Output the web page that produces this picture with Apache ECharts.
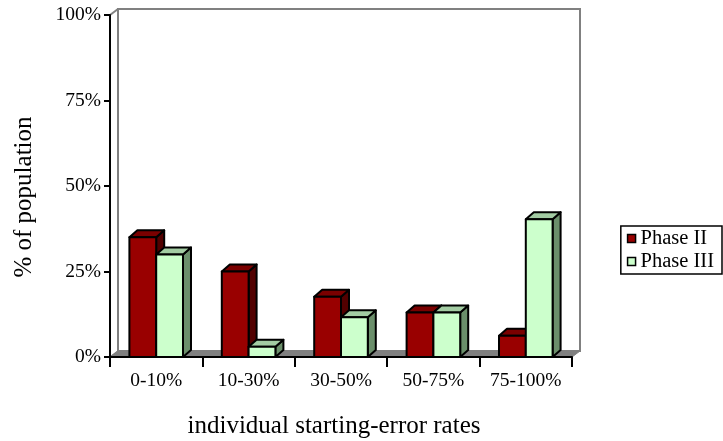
<!DOCTYPE html>
<html>
<head>
<meta charset="utf-8">
<script src="https://cdn.jsdelivr.net/npm/echarts@6/dist/echarts.min.js"></script>
<style>
html,body{margin:0;padding:0;background:#fff;}
#chart{width:723px;height:441px;}
</style>
</head>
<body>
<div id="chart"></div>
<script>
var categories = ['0-10%', '10-30%', '30-50%', '50-75%', '75-100%'];
var phase2 = [35, 25, 17.6, 13, 6.2];
var phase3 = [30, 3, 11.6, 13, 40.3];
var yTicks = [0, 25, 50, 75, 100];

var DX = 8, DY = 7;
var FONT = '"Liberation Serif", "Times New Roman", serif';

var seriesStyles = [
  {name: 'Phase II', front: '#990000', top: '#7a0000', side: '#520000'},
  {name: 'Phase III', front: '#ccffcc', top: '#a3cca3', side: '#6b8f6b'}
];

var chart = echarts.init(document.getElementById('chart'), null, {renderer: 'canvas'});

function wallRender(params, api) {
  var cs = params.coordSys;
  var x0 = cs.x, y0 = cs.y, w = cs.width, h = cs.height;
  var dx = 8, dy = 6;
  return {
    type: 'group',
    children: [
      {type: 'polygon', shape: {points: [[x0, y0 + h], [x0 + w, y0 + h], [x0 + w + dx, y0 + h - dy], [x0 + dx, y0 + h - dy]]},
        style: {fill: '#808080', stroke: '#808080', lineWidth: 1}},
      {type: 'rect', shape: {x: x0 + dx, y: y0 - dy, width: w, height: h},
        style: {fill: 'none', stroke: '#808080', lineWidth: 2}},
      {type: 'line', shape: {x1: x0, y1: y0, x2: x0 + dx, y2: y0 - dy}, style: {stroke: '#808080', lineWidth: 2}},
      {type: 'line', shape: {x1: x0, y1: y0 + h, x2: x0 + dx, y2: y0 + h - dy}, style: {stroke: '#808080', lineWidth: 1.5}}
    ]
  };
}

function makeBarRender(idx) {
  var st = seriesStyles[idx];
  return function (params, api) {
    var ci = api.value(0);
    var val = api.value(1);
    var base = api.coord([ci, 0]);
    var topPt = api.coord([ci, val]);
    var bandW = api.size([1, 0])[0];
    var barW = bandW * 0.29;
    var groupLeft = base[0] - barW;
    var x = groupLeft + idx * barW;
    var yb = base[1], yt = topPt[1];
    var line = {stroke: '#000', lineWidth: 2, lineJoin: 'round'};
    return {
      type: 'group',
      children: [
        {type: 'polygon', shape: {points: [[x + barW, yt], [x + barW + DX, yt - DY], [x + barW + DX, yb - DY], [x + barW, yb]]},
          style: Object.assign({fill: st.side}, line)},
        {type: 'polygon', shape: {points: [[x, yt], [x + DX, yt - DY], [x + barW + DX, yt - DY], [x + barW, yt]]},
          style: Object.assign({fill: st.top}, line)},
        {type: 'rect', shape: {x: x, y: yt, width: barW, height: yb - yt},
          style: Object.assign({fill: st.front}, line)}
      ]
    };
  };
}

function toData(arr) {
  return arr.map(function (v, i) { return [i, v]; });
}

var option = {
  backgroundColor: '#fff',
  animation: false,
  grid: {left: 110, top: 15, width: 462, height: 342, containLabel: false, outerBoundsMode: 'none'},
  legend: {
    right: 1, top: 226,
    orient: 'vertical',
    itemWidth: 8, itemHeight: 8, itemGap: 2,
    icon: 'rect',
    borderColor: '#000', borderWidth: 1.5,
    padding: [2, 8, 2, 6],
    textStyle: {fontFamily: FONT, fontSize: 20.5, color: '#000'},
    data: [
      {name: 'Phase II', itemStyle: {color: '#990000', borderColor: '#000', borderWidth: 1.5}},
      {name: 'Phase III', itemStyle: {color: '#ccffcc', borderColor: '#000', borderWidth: 1.5}}
    ]
  },
  xAxis: {
    type: 'category',
    data: categories,
    boundaryGap: true,
    name: 'individual starting-error rates',
    nameLocation: 'middle',
    nameGap: 57,
    nameTextStyle: {fontFamily: FONT, fontSize: 25, color: '#000', padding: [0, 14, 0, 0]},
    axisLine: {lineStyle: {color: '#000', width: 2}},
    axisTick: {show: true, length: 10, interval: 0, lineStyle: {color: '#000', width: 2}},
    axisLabel: {fontFamily: FONT, fontSize: 19.5, color: '#000', margin: 14, interval: 0},
    splitLine: {show: false}
  },
  yAxis: {
    type: 'value',
    min: 0, max: 100, interval: 25,
    name: '% of population',
    nameLocation: 'middle',
    nameGap: 73,
    nameRotate: 90,
    nameTextStyle: {fontFamily: FONT, fontSize: 25, color: '#000', padding: [0, 22, 0, 0]},
    axisLine: {show: true, lineStyle: {color: '#000', width: 2}},
    axisTick: {show: true, length: 6, inside: false, lineStyle: {color: '#000', width: 2}},
    axisLabel: {fontFamily: FONT, fontSize: 19.5, color: '#000', margin: 9,
      formatter: function (v) { return yTicks.indexOf(v) >= 0 ? v + '%' : ''; }},
    splitLine: {show: false}
  },
  series: [
    {type: 'custom', name: 'walls', renderItem: wallRender, data: [[0, 0]], z: 0, silent: true, clip: false},
    {type: 'custom', name: 'Phase II', renderItem: makeBarRender(0), data: toData(phase2), z: 2, clip: false,
      itemStyle: {color: '#990000'}, encode: {x: 0, y: 1}},
    {type: 'custom', name: 'Phase III', renderItem: makeBarRender(1), data: toData(phase3), z: 3, clip: false,
      itemStyle: {color: '#ccffcc'}, encode: {x: 0, y: 1}}
  ]
};
chart.setOption(option);
</script>
</body>
</html>
